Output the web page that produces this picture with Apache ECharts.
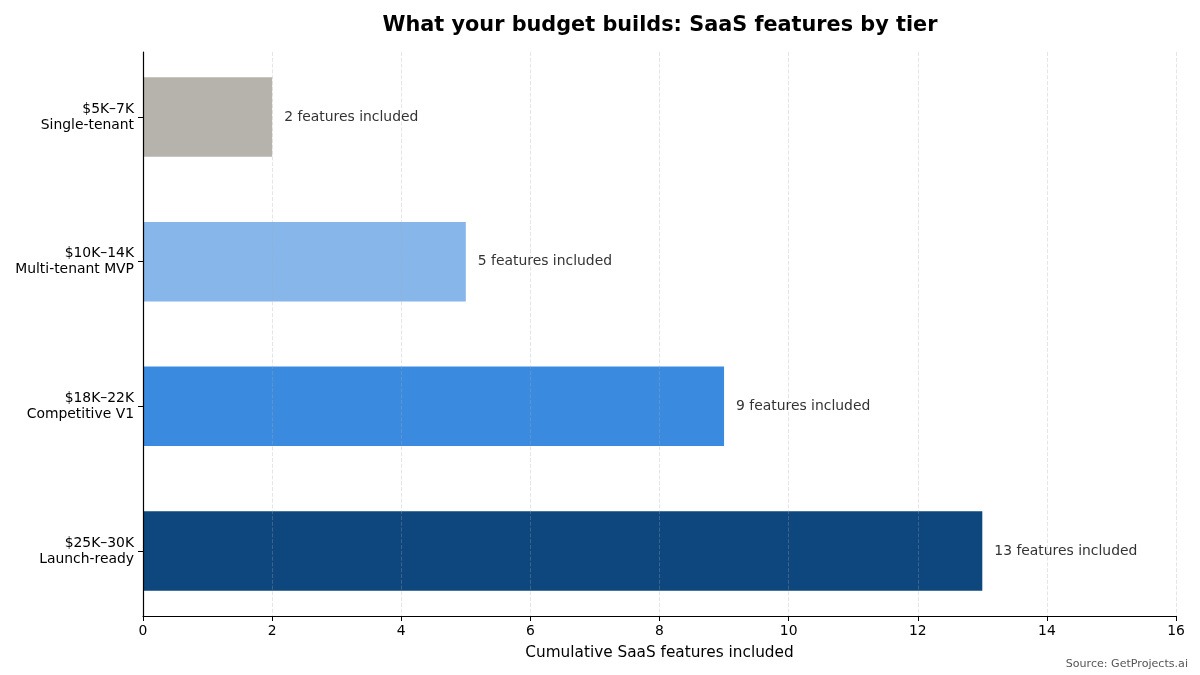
<!DOCTYPE html>
<html><head><meta charset="utf-8">
<script src="https://cdn.jsdelivr.net/npm/echarts@6/dist/echarts.min.js"></script>
<style>html,body{margin:0;padding:0;background:#fff}#c{width:1200px;height:675px}</style>
</head><body><div id="c"></div>
<script>
const categories = ['$5K–7K\nSingle-tenant', '$10K–14K\nMulti-tenant MVP', '$18K–22K\nCompetitive V1', '$25K–30K\nLaunch-ready'];
const values = [2, 5, 9, 13];
const colors = ['#b5b3ab', '#86b6ea', '#3a8be0', '#0d477d'];
const xTicks = [0, 2, 4, 6, 8, 10, 12, 14, 16];
const labelSuffix = ' features included';

const font = 'DejaVu Sans';
const chart = echarts.init(document.getElementById('c'));
chart.setOption({
  backgroundColor: '#fff',
  animation: false,
  title: {
    text: 'What your budget builds: SaaS features by tier',
    left: 655, top: 10, textAlign: 'center',
    textStyle: {fontFamily: font, fontSize: 20.8, fontWeight: 'bold', color: '#000'}
  },
  graphic: [{
    type: 'text', right: 12, top: 659,
    style: {text: 'Source: GetProjects.ai', fontFamily: font, fontSize: 11.1, fill: '#555'}
  }],
  grid: {left: 143, right: 24, top: 52, bottom: 59},
  xAxis: {
    type: 'value', min: 0, max: 16, interval: 2, z: 3,
    name: 'Cumulative SaaS features included', nameLocation: 'middle', nameGap: 30,
    nameTextStyle: {fontFamily: font, fontSize: 15.3, color: '#000'},
    axisLine: {show: true, onZero: false, lineStyle: {color: '#000', width: 1.2}},
    axisTick: {show: true, length: 5, lineStyle: {color: '#000'}},
    axisLabel: {fontFamily: font, fontSize: 13.9, color: '#000', margin: 8},
    splitLine: {show: true, lineStyle: {color: 'rgba(170,170,170,0.3)', type: [4, 1.8], width: 1}}
  },
  yAxis: {
    type: 'value', min: -0.45, max: 3.45, inverse: true, z: 4,
    axisLine: {show: true, onZero: false, lineStyle: {color: '#000', width: 1.2}},
    axisTick: {show: true, length: 5, customValues: [0, 1, 2, 3], lineStyle: {color: '#000'}},
    axisLabel: {
      customValues: [0, 1, 2, 3], fontFamily: font, fontSize: 13.9, color: '#000',
      lineHeight: 16, align: 'right', margin: 9,
      formatter: v => categories[Math.round(v)]
    },
    splitLine: {show: false}
  },
  series: [{
    type: 'custom',
    data: values.map((v, i) => [v, i]),
    renderItem: function (params, api) {
      const v = api.value(0), idx = api.value(1);
      const s = api.coord([0, idx]);
      const e = api.coord([v, idx]);
      const h = api.size([0, 0.55])[1];
      return {
        type: 'group',
        children: [
          {type: 'rect', shape: {x: s[0], y: s[1] - h / 2, width: e[0] - s[0], height: h},
           style: {fill: colors[params.dataIndex]}},
          {type: 'text', x: e[0] + 12, y: e[1],
           style: {text: v + labelSuffix, fontFamily: font, fontSize: 13.9, fill: '#333',
                   verticalAlign: 'middle', align: 'left'}}
        ]
      };
    }
  }]
});
</script></body></html>
